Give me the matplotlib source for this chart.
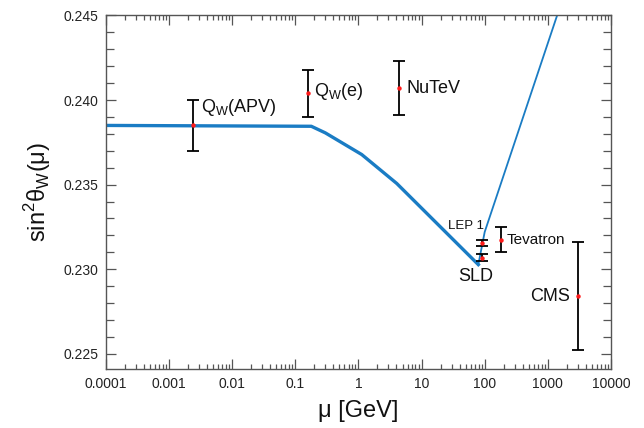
import matplotlib
matplotlib.use("Agg")
import matplotlib.pyplot as plt
from matplotlib.ticker import FixedLocator, LogLocator, MultipleLocator, NullFormatter
import numpy as np

plt.rcParams["font.family"] = ["Liberation Sans", "DejaVu Sans"]

# ── data ──────────────────────────────────────────────────────────────────────

# running sin^2 theta_W, low-energy branch (thick)
RUN_MU  = [0.0001, 0.18, 0.30, 1.13, 4.05, 79.3]
RUN_S2W = [0.23850, 0.23845, 0.23806, 0.23678, 0.23507, 0.23027]

# branch above M_Z (thin)
HI_MU  = [79.3, 100.0, 1400.0]
HI_S2W = [0.23027, 0.23220, 0.24500]

NAMES  = ["APV", "Qe", "NuTeV", "LEP1", "SLD", "Tevatron", "CMS"]
MU     = [0.0024, 0.16, 4.4, 91.19, 91.19, 180.0, 2970.0]
S2W    = [0.23850, 0.24040, 0.24070, 0.23157, 0.23068, 0.23175, 0.22841]
ERR    = [0.00150, 0.00140, 0.00160, 0.00017, 0.00020, 0.00072, 0.00318]

LABELS = ["Q$_\\mathregular{W}$(APV)", "Q$_\\mathregular{W}$(e)", "NuTeV",
          "LEP 1", "SLD", "Tevatron", "CMS"]
LAB_X  = [0.0032, 0.20, 5.8, 26.0, 73.0, 223.0, 2240.0]
LAB_Y  = [0.23955, 0.24049, 0.24069, 0.23254, 0.22958, 0.23175, 0.22841]
LAB_HA = ["left", "left", "left", "left", "center", "left", "right"]
LAB_FS = [13, 13, 13, 9.5, 13, 11, 13]

XTICKS      = [1e-4, 1e-3, 1e-2, 1e-1, 1, 10, 100, 1000, 10000]
XTICKLABELS = ["0.0001", "0.001", "0.01", "0.1", "1", "10", "100", "1000", "10000"]
YTICKS      = [0.225, 0.230, 0.235, 0.240, 0.245]

BLUE = "#1a7cc4"

# ── figure ────────────────────────────────────────────────────────────────────

fig = plt.figure(figsize=(6.44, 4.28), dpi=100, facecolor="white")
ax = fig.add_axes([0.1641, 0.1379, 0.9488 - 0.1641, 0.9638 - 0.1379])

ax.plot(RUN_MU, RUN_S2W, color=BLUE, linewidth=2.4, solid_joinstyle="round", zorder=2)
ax.plot(HI_MU, HI_S2W, color=BLUE, linewidth=1.3, zorder=2)

ax.errorbar(MU, S2W, yerr=ERR, fmt="none", ecolor="black", elinewidth=1.3,
            capsize=4, capthick=1.3, zorder=3)
ax.plot(MU, S2W, linestyle="none", marker="o", markersize=3.2,
        color="#ff1a1a", markeredgewidth=0, zorder=4)

for txt, x, y, ha, fs in zip(LABELS, LAB_X, LAB_Y, LAB_HA, LAB_FS):
    ax.text(x, y, txt, ha=ha, va="center", fontsize=fs, color="#111111", zorder=5)

ax.set_xscale("log")
ax.set_xlim(1e-4, 1e4)
ax.set_ylim(0.2241, 0.245)

ax.xaxis.set_major_locator(FixedLocator(XTICKS))
ax.set_xticklabels(XTICKLABELS)
ax.xaxis.set_minor_locator(LogLocator(base=10, subs=np.arange(2, 10), numticks=20))
ax.xaxis.set_minor_formatter(NullFormatter())
ax.set_yticks(YTICKS)
ax.set_yticklabels([f"{v:.3f}" for v in YTICKS])
ax.yaxis.set_minor_locator(MultipleLocator(0.001))

for spine in ax.spines.values():
    spine.set_color("#555555")
    spine.set_linewidth(1.0)
ax.tick_params(axis="both", which="both", direction="in", top=True, right=True,
               colors="#555555", labelcolor="#222222", labelsize=10, width=0.9)
ax.tick_params(axis="x", which="major", length=7, pad=6)
ax.tick_params(axis="x", which="minor", length=3.5)
ax.tick_params(axis="y", which="major", length=7, pad=5)
ax.tick_params(axis="y", which="minor", length=6)

ax.set_xlabel("μ [GeV]", fontsize=17, color="#111111", labelpad=6)
ax.set_ylabel("sin$^\\mathregular{2}$θ$_\\mathregular{W}$(μ)", fontsize=17,
              color="#111111", labelpad=8)

fig.savefig("out.png", dpi=100, facecolor="white")
